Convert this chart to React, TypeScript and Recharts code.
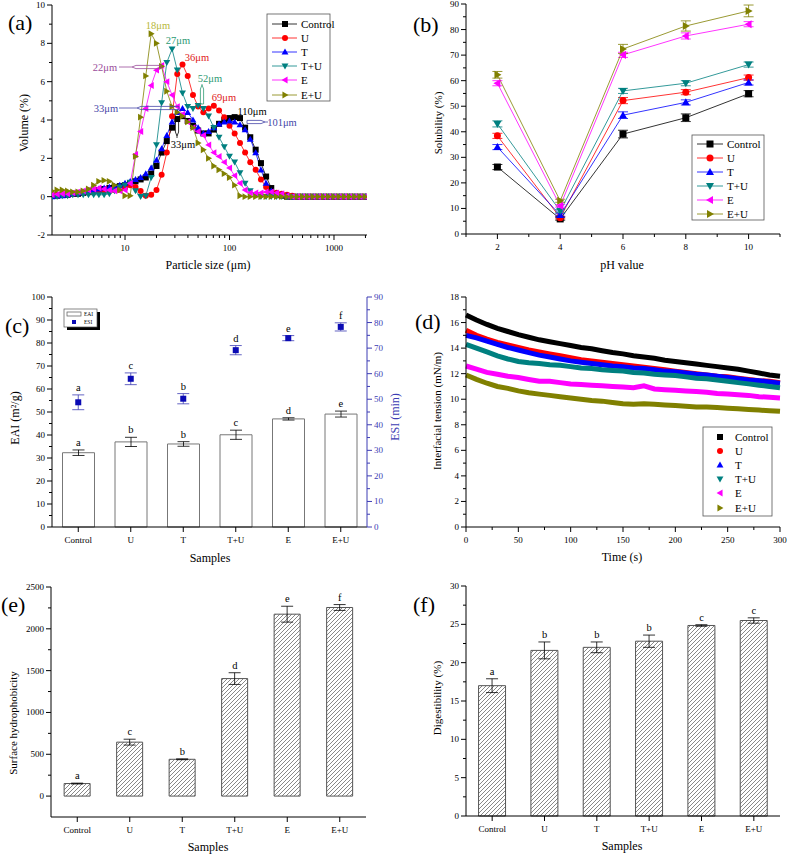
import { Bar, ComposedChart, ErrorBar, Line, LineChart, Scatter, XAxis, YAxis } from 'recharts'

const FONT = '"Liberation Serif", "DejaVu Serif", serif'
const FS = { fontFamily: FONT }

// (a) particle size distribution, volume % per size bin
const SIZES = [
  2.0, 2.24, 2.51, 2.82, 3.16, 3.55, 3.98, 4.47, 5.01, 5.62, 6.31, 7.08, 7.94, 8.91, 10.0,
  11.2, 12.6, 14.1, 15.8, 17.8, 20.0, 22.4, 25.1, 28.2, 31.6, 35.5, 39.8, 44.7, 50.1, 56.2,
  63.1, 70.8, 79.4, 89.1, 100, 112, 126, 141, 158, 178, 200, 224, 251, 282, 316, 355, 398,
  447, 501, 562, 631, 708, 794, 891, 1000, 1122, 1259, 1413, 1585, 1778, 1995,
]
const VOL_CONTROL = [
  0.05, 0.05, 0.1, 0.1, 0.15, 0.15, 0.2, 0.25, 0.3, 0.35, 0.4, 0.45, 0.5, 0.55, 0.6,
  0.7, 0.8, 0.9, 1.0, 1.2, 1.6, 2.3, 2.9, 3.6, 4.05, 4.2, 3.95, 3.7, 3.45, 3.3,
  3.3, 3.5, 3.8, 4.0, 4.1, 4.15, 4.1, 3.6, 3.1, 2.45, 1.75, 1.05, 0.45, 0.1, 0.05, 0, 0,
  0, 0, 0, 0, 0, 0, 0, 0, 0, 0, 0, 0, 0, 0,
]
const VOL_U = [
  0.1, 0.1, 0.15, 0.15, 0.15, 0.2, 0.2, 0.25, 0.25, 0.3, 0.3, 0.3, 0.35, 0.35, 0.45,
  0.6, 0.5, 0.3, 0.05, 0.1, 0.35, 1.15, 2.3, 4.2, 6.4, 6.9, 6.3, 5.3, 4.7, 4.4,
  4.6, 4.75, 4.5, 4.15, 3.7, 3.3, 2.8, 2.3, 1.8, 1.4, 0.9, 0.5, 0.25, 0.2, 0.15, 0.1, 0.05,
  0, 0, 0, 0, 0, 0, 0, 0, 0, 0, 0, 0, 0, 0,
]
const VOL_T = [
  0.0, 0.05, 0.05, 0.1, 0.15, 0.2, 0.25, 0.3, 0.35, 0.4, 0.45, 0.5, 0.55, 0.6, 0.7,
  0.8, 0.9, 1.0, 1.2, 1.5, 1.9, 2.5, 3.2, 3.9, 4.4, 4.6, 4.4, 4.0, 3.6, 3.3,
  3.4, 3.6, 3.8, 3.9, 3.95, 3.9, 3.75, 3.5, 3.0, 2.3, 1.4, 0.7, 0.3, 0.15, 0.1, 0.05, 0,
  0, 0, 0, 0, 0, 0, 0, 0, 0, 0, 0, 0, 0, 0,
]
const VOL_TU = [
  0.0, 0.0, 0.05, 0.05, 0.1, 0.1, 0.1, 0.1, 0.1, 0.1, 0.1, 0.15, 0.3, 0.5, 0.6,
  0.75, 0.3, 0.0, 0.05, 1.0, 2.7, 4.9, 7.0, 7.7, 6.6, 5.4, 4.7, 4.6, 4.75, 4.6,
  4.2, 3.6, 3.1, 2.6, 2.1, 1.8, 1.25, 0.7, 0.3, 0.1, 0, 0, 0, 0, 0, 0, 0,
  0, 0, 0, 0, 0, 0, 0, 0, 0, 0, 0, 0, 0, 0,
]
const VOL_E = [
  0.1, 0.12, 0.15, 0.15, 0.2, 0.25, 0.3, 0.35, 0.4, 0.45, 0.4, 0.35, 0.3, 0.3, 0.35,
  0.7, 2.2, 3.4, 4.6, 5.8, 6.6, 6.85, 6.0, 5.3, 4.7, 4.3, 3.9, 3.6, 3.4, 3.2,
  2.7, 2.3, 2.1, 1.8, 1.5, 1.1, 0.7, 0.35, 0.2, 0.2, 0.2, 0.25, 0.25, 0.2, 0.15, 0.05, 0,
  0, 0, 0, 0, 0, 0, 0, 0, 0, 0, 0, 0, 0, 0,
]
const VOL_EU = [
  0.3, 0.35, 0.35, 0.3, 0.25, 0.25, 0.3, 0.4, 0.6, 0.8, 0.85, 0.8, 0.6, 0.35, 0.05,
  0.05, 2.1, 4.15, 6.3, 8.5, 8.0, 6.8, 5.5, 4.7, 4.4, 4.2, 3.9, 3.6, 2.8, 2.45,
  2.0, 1.6, 1.4, 1.2, 1.0, 0.6, 0.05, 0, 0, 0, 0, 0, 0, 0, 0, 0, 0,
  0, 0, 0, 0, 0, 0, 0, 0, 0, 0, 0, 0, 0, 0,
]

// (b) solubility vs pH
const PH = [2, 4, 6, 8, 10]
const SOL_CONTROL = [26.2, 5.9, 39.1, 45.5, 54.9]
const SOL_U = [38.4, 6.4, 52.2, 55.5, 61.2]
const SOL_T = [34, 7.4, 46.5, 51.5, 59.3]
const SOL_TU = [43.1, 9, 56, 59, 66.3]
const SOL_E = [59, 11, 70.1, 77.5, 82.1]
const SOL_EU = [62.3, 13, 72.4, 81.4, 87.3]
const SOL_ERR_CONTROL = [1, 0.5, 1.5, 1.5, 1.2]
const SOL_ERR_U = [1, 0.5, 1.2, 1, 1]
const SOL_ERR_T = [1, 0.5, 1.3, 1, 1]
const SOL_ERR_TU = [1.2, 0.5, 1, 1, 1]
const SOL_ERR_E = [1, 0.5, 1, 1.2, 1]
const SOL_ERR_EU = [1.3, 0.6, 1.8, 2, 2.3]

// (c)-(f) per sample
const SAMPLES = ['Control', 'U', 'T', 'T+U', 'E', 'E+U']
const EAI = [32.3, 37, 36.1, 40.1, 47, 49.1]
const EAI_ERR = [1.2, 2.0, 1.0, 2.0, 0.5, 1.3]
const EAI_LETTERS = ['a', 'b', 'b', 'c', 'd', 'e']
const ESI = [48.8, 58, 50.2, 69.2, 73.9, 78.3]
const ESI_ERR = [2.9, 2.3, 2.0, 1.8, 1.0, 1.6]
const ESI_LETTERS = ['a', 'c', 'b', 'd', 'e', 'f']
const HYD = [150, 645, 440, 1405, 2175, 2255]
const HYD_ERR = [5, 35, 5, 70, 95, 35]
const HYD_LETTERS = ['a', 'c', 'b', 'd', 'e', 'f']
const DIG = [17, 21.6, 22, 22.8, 24.85, 25.5]
const DIG_ERR = [0.9, 1.1, 0.7, 0.8, 0.1, 0.35]
const DIG_LETTERS = ['a', 'b', 'b', 'b', 'c', 'c']

// (d) interfacial tension vs time
const TIME_S = [0, 10, 20, 30, 40, 50, 60, 70, 80, 90, 100, 110, 120, 130, 140, 150, 160, 170, 180, 190, 200, 210, 220, 230, 240, 250, 260, 270, 280, 290, 300]
const IT_CONTROL = [16.6, 16.2, 15.85, 15.55, 15.3, 15.05, 14.85, 14.65, 14.5, 14.35, 14.2, 14.05, 13.95, 13.8, 13.65, 13.55, 13.4, 13.3, 13.2, 13.05, 12.95, 12.85, 12.75, 12.65, 12.55, 12.45, 12.35, 12.2, 12.05, 11.9, 11.8]
const IT_U = [15.4, 15.0, 14.7, 14.45, 14.25, 14.05, 13.85, 13.7, 13.55, 13.4, 13.25, 13.1, 13.0, 12.9, 12.8, 12.7, 12.6, 12.5, 12.4, 12.3, 12.2, 12.1, 12.0, 11.9, 11.8, 11.75, 11.65, 11.55, 11.45, 11.4, 11.3]
const IT_T = [15.0, 14.8, 14.55, 14.3, 14.05, 13.85, 13.65, 13.45, 13.3, 13.15, 13.0, 12.9, 12.8, 12.7, 12.6, 12.55, 12.45, 12.4, 12.3, 12.2, 12.15, 12.05, 11.95, 11.9, 11.8, 11.7, 11.6, 11.5, 11.45, 11.35, 11.25]
const IT_TU = [14.3, 14.0, 13.7, 13.4, 13.15, 12.95, 12.85, 12.8, 12.7, 12.65, 12.55, 12.45, 12.4, 12.3, 12.25, 12.2, 12.1, 12.05, 11.95, 11.9, 11.85, 11.75, 11.65, 11.6, 11.5, 11.4, 11.3, 11.2, 11.1, 11.0, 10.9]
const IT_E = [12.6, 12.35, 12.1, 11.95, 11.8, 11.7, 11.55, 11.4, 11.4, 11.3, 11.2, 11.15, 11.1, 11.05, 11.0, 10.95, 10.9, 11.05, 10.8, 10.75, 10.7, 10.65, 10.6, 10.55, 10.45, 10.4, 10.35, 10.3, 10.2, 10.15, 10.1]
const IT_EU = [11.9, 11.55, 11.25, 11.0, 10.85, 10.65, 10.5, 10.4, 10.3, 10.2, 10.1, 10.0, 9.9, 9.85, 9.75, 9.65, 9.6, 9.65, 9.6, 9.55, 9.5, 9.45, 9.4, 9.4, 9.35, 9.3, 9.25, 9.2, 9.15, 9.1, 9.05]

const SERIES = [
  { key: 'control', name: 'Control', color: '#000000', shape: 'square' },
  { key: 'u', name: 'U', color: '#ff0000', shape: 'circle' },
  { key: 't', name: 'T', color: '#0000ff', shape: 'up' },
  { key: 'tu', name: 'T+U', color: '#008080', shape: 'down' },
  { key: 'e', name: 'E', color: '#ff00ff', shape: 'left' },
  { key: 'eu', name: 'E+U', color: '#808000', shape: 'right' },
]

const sizeData = SIZES.map((s, i) => ({
  size: s, control: VOL_CONTROL[i], u: VOL_U[i], t: VOL_T[i], tu: VOL_TU[i], e: VOL_E[i], eu: VOL_EU[i],
}))
const phData = PH.map((p, i) => ({
  ph: p,
  control: SOL_CONTROL[i], controlErr: SOL_ERR_CONTROL[i],
  u: SOL_U[i], uErr: SOL_ERR_U[i],
  t: SOL_T[i], tErr: SOL_ERR_T[i],
  tu: SOL_TU[i], tuErr: SOL_ERR_TU[i],
  e: SOL_E[i], eErr: SOL_ERR_E[i],
  eu: SOL_EU[i], euErr: SOL_ERR_EU[i],
}))
const tensionData = TIME_S.map((t, i) => ({
  time: t, control: IT_CONTROL[i], u: IT_U[i], t: IT_T[i], tu: IT_TU[i], e: IT_E[i], eu: IT_EU[i],
}))
const emulsionData = SAMPLES.map((s, i) => ({
  name: s,
  eai: EAI[i], eaiErr: EAI_ERR[i], eaiTop: EAI[i] + EAI_ERR[i], eaiLetter: EAI_LETTERS[i],
  esi: ESI[i], esiErr: ESI_ERR[i], esiTop: ESI[i] + ESI_ERR[i], esiLetter: ESI_LETTERS[i],
}))
const hydData = SAMPLES.map((s, i) => ({ name: s, v: HYD[i], err: HYD_ERR[i], top: HYD[i] + HYD_ERR[i], letter: HYD_LETTERS[i] }))
const digData = SAMPLES.map((s, i) => ({ name: s, v: DIG[i], err: DIG_ERR[i], top: DIG[i] + DIG_ERR[i], letter: DIG_LETTERS[i] }))

const ESI_BLUE = '#3c3cb4'

function Marker({ cx, cy, shape, color, r = 3 }: any) {
  if (cx == null || cy == null) return <g />
  const a = r * 1.15
  const b = r * 0.85
  if (shape === 'square') return <rect x={cx - r} y={cy - r} width={2 * r} height={2 * r} fill={color} />
  if (shape === 'circle') return <circle cx={cx} cy={cy} r={r} fill={color} />
  let pts = ''
  if (shape === 'up') pts = `${cx},${cy - a} ${cx + a},${cy + b} ${cx - a},${cy + b}`
  if (shape === 'down') pts = `${cx},${cy + a} ${cx + a},${cy - b} ${cx - a},${cy - b}`
  if (shape === 'left') pts = `${cx - a},${cy} ${cx + b},${cy - a} ${cx + b},${cy + a}`
  if (shape === 'right') pts = `${cx + a},${cy} ${cx - b},${cy - a} ${cx - b},${cy + a}`
  return <polygon points={pts} fill={color} />
}

function LeftTick({ x = 0, y = 0, payload, majors = [], color = '#000' }: any) {
  const v = payload?.value
  const major = majors.includes(v)
  return (
    <g>
      <line x1={x} x2={x - (major ? 5 : 3)} y1={y} y2={y} stroke={color} />
      {major && (
        <text x={x - 7} y={y + 3} textAnchor="end" fontSize={9} style={FS} fill={color}>{v}</text>
      )}
    </g>
  )
}

function RightTick({ x = 0, y = 0, payload, majors = [], color = '#000' }: any) {
  const v = payload?.value
  const major = majors.includes(v)
  return (
    <g>
      <line x1={x} x2={x + (major ? 5 : 3)} y1={y} y2={y} stroke={color} />
      {major && (
        <text x={x + 7} y={y + 3} textAnchor="start" fontSize={9} style={FS} fill={color}>{v}</text>
      )}
    </g>
  )
}

function BottomTick({ x = 0, y = 0, payload, majors }: any) {
  const v = payload?.value
  const major = majors ? majors.includes(v) : true
  return (
    <g>
      <line x1={x} x2={x} y1={y} y2={y + (major ? 5 : 3)} stroke="#000" />
      {major && (
        <text x={x} y={y + 16} textAnchor="middle" fontSize={9} style={FS} fill="#000">{v}</text>
      )}
    </g>
  )
}

const letterShape = (field: string) => (p: any) => (
  <text x={p.cx} y={p.cy - 4} textAnchor="middle" fontSize={10.5} style={FS} fill="#000">
    {p.payload[field]}
  </text>
)

const squareShape = (p: any) => <rect x={p.cx - 3} y={p.cy - 3} width={6} height={6} fill="#0a0ab4" />

const axisCommon = { tickLine: false, tickSize: 0, tickMargin: 0, interval: 0 as const, axisLine: { stroke: '#000' } }

function HollowArrow({ x1, y1, x2, y2, thin, color }: any) {
  const len = Math.hypot(x2 - x1, y2 - y1)
  const dx = (x2 - x1) / len
  const dy = (y2 - y1) / len
  const nx = -dy * 1.6
  const ny = dx * 1.6
  const tx = x1 + dx * thin
  const ty = y1 + dy * thin
  const hx = tx + dx * 4
  const hy = ty + dy * 4
  const pts = `${tx},${ty} ${hx + nx},${hy + ny} ${x2 + nx},${y2 + ny} ${x2 - nx},${y2 - ny} ${hx - nx},${hy - ny}`
  return (
    <g stroke={color} strokeWidth={0.8} fill="none">
      <line x1={x1} y1={y1} x2={tx} y2={ty} />
      <polygon points={pts} />
    </g>
  )
}

function LegendBox({ box, rows, lineX, markX, textX, r, withLine }: any) {
  return (
    <g>
      <rect x={box[0]} y={box[1]} width={box[2]} height={box[3]} fill="#fff" stroke="#555" strokeWidth={0.8} />
      {SERIES.map((s, i) => (
        <g key={s.key}>
          {withLine && <line x1={lineX[0]} x2={lineX[1]} y1={rows[i]} y2={rows[i]} stroke={s.color} strokeWidth={0.8} />}
          <Marker cx={markX} cy={rows[i]} shape={s.shape} color={s.color} r={r} />
          <text x={textX} y={rows[i] + 4} fontSize={11} style={FS} fill="#000">{s.name}</text>
        </g>
      ))}
    </g>
  )
}

function VText({ x, y, children, size = 11, color = '#000' }: any) {
  return (
    <text transform={`translate(${x},${y}) rotate(-90)`} textAnchor="middle" dy="0.35em" fontSize={size} style={FS} fill={color}>
      {children}
    </text>
  )
}

function HText({ x, y, children, size = 12, color = '#000', anchor = 'middle' }: any) {
  return (
    <text x={x} y={y} textAnchor={anchor} fontSize={size} style={FS} fill={color}>{children}</text>
  )
}

const hatch = (id: string) => (
  <defs>
    <pattern id={id} patternUnits="userSpaceOnUse" width={4} height={4}>
      <rect width={4} height={4} fill="#fff" />
      <path d="M-1,1 l2,-2 M0,4 l4,-4 M3,5 l2,-2" stroke="#555" strokeWidth={0.7} />
    </pattern>
  </defs>
)

export default function App() {
  return (
    <div style={{ position: 'absolute', left: 0, top: 0, width: 787, height: 854, background: '#fff', fontFamily: FONT }}>
      {/* (a) */}
      <div style={{ position: 'absolute', left: 0, top: 0 }}>
        <LineChart width={390} height={260} data={sizeData} margin={{ top: 5, right: 23, left: 12, bottom: 0 }}>
          <XAxis
            dataKey="size" type="number" scale="log" domain={[2, 2070]} allowDataOverflow height={25}
            ticks={[3, 4, 5, 6, 7, 8, 9, 10, 20, 30, 40, 50, 60, 70, 80, 90, 100, 200, 300, 400, 500, 600, 700, 800, 900, 1000, 2000]}
            tick={<BottomTick majors={[10, 100, 1000]} />} {...axisCommon}
          />
          <YAxis
            type="number" domain={[-2, 10]} width={40}
            ticks={[-2, -1, 0, 1, 2, 3, 4, 5, 6, 7, 8, 9, 10]}
            tick={<LeftTick majors={[-2, 0, 2, 4, 6, 8, 10]} />} {...axisCommon}
          />
          {SERIES.map((s) => (
            <Line
              key={s.key} dataKey={s.key} stroke={s.color} strokeWidth={0.8} isAnimationActive={false} activeDot={false}
              dot={(p: any) => <Marker key={`${s.key}${p.index}`} cx={p.cx} cy={p.cy} shape={s.shape} color={s.color} r={3} />}
            />
          ))}
        </LineChart>
      </div>

      {/* (b) */}
      <div style={{ position: 'absolute', left: 390, top: 0 }}>
        <LineChart width={397} height={260} data={phData} margin={{ top: 4, right: 7, left: 36, bottom: 0 }}>
          <XAxis
            dataKey="ph" type="number" domain={[1, 11]} height={26}
            ticks={[1, 2, 3, 4, 5, 6, 7, 8, 9, 10, 11]}
            tick={<BottomTick majors={[2, 4, 6, 8, 10]} />} {...axisCommon}
          />
          <YAxis
            type="number" domain={[0, 90]} width={40}
            ticks={[0, 5, 10, 15, 20, 25, 30, 35, 40, 45, 50, 55, 60, 65, 70, 75, 80, 85, 90]}
            tick={<LeftTick majors={[0, 10, 20, 30, 40, 50, 60, 70, 80, 90]} />} {...axisCommon}
          />
          {SERIES.map((s) => (
            <Line
              key={s.key} dataKey={s.key} stroke={s.color} strokeWidth={0.8} isAnimationActive={false} activeDot={false}
              dot={(p: any) => <Marker key={`${s.key}${p.index}`} cx={p.cx} cy={p.cy} shape={s.shape} color={s.color} r={3.5} />}
            >
              <ErrorBar dataKey={`${s.key}Err`} width={5} stroke={s.color} strokeWidth={0.8} direction="y" />
            </Line>
          ))}
        </LineChart>
      </div>

      {/* (c) */}
      <div style={{ position: 'absolute', left: 0, top: 280 }}>
        <ComposedChart width={400} height={272} data={emulsionData} margin={{ top: 17, right: 3, left: 12, bottom: 0 }} barCategoryGap="20%">
          <XAxis dataKey="name" height={25} tick={<BottomTick />} {...axisCommon} />
          <YAxis
            yAxisId="left" type="number" domain={[0, 100]} width={40}
            ticks={[0, 5, 10, 15, 20, 25, 30, 35, 40, 45, 50, 55, 60, 65, 70, 75, 80, 85, 90, 95, 100]}
            tick={<LeftTick majors={[0, 10, 20, 30, 40, 50, 60, 70, 80, 90, 100]} />} {...axisCommon}
          />
          <YAxis
            yAxisId="right" orientation="right" type="number" domain={[0, 90]} width={30}
            ticks={[0, 5, 10, 15, 20, 25, 30, 35, 40, 45, 50, 55, 60, 65, 70, 75, 80, 85, 90]}
            tick={<RightTick majors={[0, 10, 20, 30, 40, 50, 60, 70, 80, 90]} color={ESI_BLUE} />}
            {...axisCommon} axisLine={{ stroke: ESI_BLUE }}
          />
          <Bar yAxisId="left" dataKey="eai" fill="#fff" stroke="#777" strokeWidth={1} isAnimationActive={false}>
            <ErrorBar dataKey="eaiErr" width={6} stroke="#000" strokeWidth={0.8} />
          </Bar>
          <Scatter yAxisId="left" dataKey="eaiTop" shape={letterShape('eaiLetter')} isAnimationActive={false} />
          <Scatter yAxisId="right" dataKey="esi" shape={squareShape} isAnimationActive={false}>
            <ErrorBar dataKey="esiErr" width={6} stroke={ESI_BLUE} strokeWidth={0.8} direction="y" />
          </Scatter>
          <Scatter yAxisId="right" dataKey="esiTop" shape={letterShape('esiLetter')} isAnimationActive={false} />
        </ComposedChart>
      </div>

      {/* (d) */}
      <div style={{ position: 'absolute', left: 390, top: 280 }}>
        <LineChart width={397} height={272} data={tensionData} margin={{ top: 17, right: 7, left: 36, bottom: 0 }}>
          <XAxis
            dataKey="time" type="number" domain={[0, 300]} height={25}
            ticks={[0, 25, 50, 75, 100, 125, 150, 175, 200, 225, 250, 275, 300]}
            tick={<BottomTick majors={[0, 50, 100, 150, 200, 250, 300]} />} {...axisCommon}
          />
          <YAxis
            type="number" domain={[0, 18]} width={40}
            ticks={[0, 1, 2, 3, 4, 5, 6, 7, 8, 9, 10, 11, 12, 13, 14, 15, 16, 17, 18]}
            tick={<LeftTick majors={[0, 2, 4, 6, 8, 10, 12, 14, 16, 18]} />} {...axisCommon}
          />
          {SERIES.map((s) => (
            <Line key={s.key} dataKey={s.key} stroke={s.color} strokeWidth={5} dot={false} activeDot={false} isAnimationActive={false} />
          ))}
        </LineChart>
      </div>

      {/* (e) */}
      <div style={{ position: 'absolute', left: 0, top: 570 }}>
        <ComposedChart width={390} height={272} data={hydData} margin={{ top: 17, right: 24, left: 11, bottom: 0 }} barCategoryGap="25%">
          {hatch('hatchE')}
          <XAxis dataKey="name" height={25} tick={<BottomTick />} {...axisCommon} />
          <YAxis
            type="number" domain={[-250, 2500]} width={40} allowDataOverflow
            ticks={[0, 250, 500, 750, 1000, 1250, 1500, 1750, 2000, 2250, 2500]}
            tick={<LeftTick majors={[0, 500, 1000, 1500, 2000, 2500]} />} {...axisCommon}
          />
          <Bar dataKey="v" fill="url(#hatchE)" stroke="#555" strokeWidth={1} isAnimationActive={false}>
            <ErrorBar dataKey="err" width={6} stroke="#000" strokeWidth={0.8} />
          </Bar>
          <Scatter dataKey="top" shape={letterShape('letter')} isAnimationActive={false} />
        </ComposedChart>
      </div>

      {/* (f) */}
      <div style={{ position: 'absolute', left: 390, top: 570 }}>
        <ComposedChart width={397} height={271} data={digData} margin={{ top: 16, right: 7, left: 36, bottom: 0 }} barCategoryGap="24%">
          {hatch('hatchF')}
          <XAxis dataKey="name" height={25} tick={<BottomTick />} {...axisCommon} />
          <YAxis
            type="number" domain={[0, 30]} width={40}
            ticks={[0, 2.5, 5, 7.5, 10, 12.5, 15, 17.5, 20, 22.5, 25, 27.5, 30]}
            tick={<LeftTick majors={[0, 5, 10, 15, 20, 25, 30]} />} {...axisCommon}
          />
          <Bar dataKey="v" fill="url(#hatchF)" stroke="#555" strokeWidth={1} isAnimationActive={false}>
            <ErrorBar dataKey="err" width={6} stroke="#000" strokeWidth={0.8} />
          </Bar>
          <Scatter dataKey="top" shape={letterShape('letter')} isAnimationActive={false} />
        </ComposedChart>
      </div>

      {/* titles, legends, annotations */}
      <svg width={787} height={854} style={{ position: 'absolute', left: 0, top: 0, pointerEvents: 'none' }}>
        <HText x={8} y={30} size={22} anchor="start">(a)</HText>
        <HText x={413} y={32} size={22} anchor="start">(b)</HText>
        <HText x={5} y={333} size={22} anchor="start">(c)</HText>
        <HText x={415} y={329} size={22} anchor="start">(d)</HText>
        <HText x={1} y={612} size={22} anchor="start">(e)</HText>
        <HText x={413} y={612} size={22} anchor="start">(f)</HText>

        <VText x={24} y={123} size={12}>Volume (%)</VText>
        <HText x={208} y={269}>Particle size (μm)</HText>
        <VText x={438} y={123}>Solubility (%)</VText>
        <HText x={622} y={269}>pH value</HText>
        <VText x={15} y={418} size={12}>EAI (m²/g)</VText>
        <VText x={395} y={417} size={12} color={ESI_BLUE}>ESI (min)</VText>
        <HText x={210} y={562}>Samples</HText>
        <VText x={437} y={411}>Interfacial tension (mN/m)</VText>
        <HText x={622} y={561}>Time (s)</HText>
        <VText x={13} y={723}>Surface hydrophobicity</VText>
        <HText x={208} y={851}>Samples</HText>
        <VText x={437} y={698}>Digestibility (%)</VText>
        <HText x={622} y={850}>Samples</HText>

        <LegendBox box={[267, 14, 63, 87]} rows={[24, 38, 52, 66, 80, 95]} lineX={[272, 297]} markX={285} textX={301} r={3} withLine />
        <LegendBox box={[692, 135, 72, 85]} rows={[144, 158, 172, 186, 200, 214]} lineX={[697, 723]} markX={710} textX={727} r={3.5} withLine />
        <LegendBox box={[703, 427, 69, 89]} rows={[437, 451, 465, 479, 493, 508]} lineX={[0, 0]} markX={720} textX={735} r={3} withLine={false} />

        <g>
          <rect x={67} y={312} width={33} height={18} fill="#000" />
          <rect x={64} y={309} width={33} height={18} fill="#fff" stroke="#555" strokeWidth={0.7} />
          <rect x={67} y={312} width={14} height={4} fill="#fff" stroke="#555" strokeWidth={0.7} />
          <text x={84} y={316} fontSize={5.5} style={FS}>EAI</text>
          <rect x={72} y={320} width={4} height={4} fill="#0a0ab4" />
          <text x={84} y={324} fontSize={5.5} style={FS}>ESI</text>
        </g>

        <g style={FS} fontSize={10.5}>
          <text x={158} y={29} textAnchor="middle" fill="#b8b83a">18μm</text>
          <text x={178} y={44} textAnchor="middle" fill="#2e9a72">27μm</text>
          <text x={197} y={61} textAnchor="middle" fill="#e02020">36μm</text>
          <text x={105} y={71} textAnchor="middle" fill="#9a4c9a">22μm</text>
          <text x={210} y={82} textAnchor="middle" fill="#2e9a72">52μm</text>
          <text x={224} y={101} textAnchor="middle" fill="#e02020">69μm</text>
          <text x={106} y={112} textAnchor="middle" fill="#4646a8">33μm</text>
          <text x={252} y={115} textAnchor="middle" fill="#000">110μm</text>
          <text x={282} y={126} textAnchor="middle" fill="#4646a8">101μm</text>
          <text x={183} y={148} textAnchor="middle" fill="#000">33μm</text>
        </g>
        <HollowArrow x1={119} y1={67} x2={161} y2={67} thin={13} color="#9a4c9a" />
        <HollowArrow x1={119} y1={108} x2={179} y2={108} thin={18} color="#4646a8" />
        <HollowArrow x1={202} y1={84} x2={202} y2={104} thin={1} color="#2e9a72" />
        <HollowArrow x1={177} y1={138} x2={177} y2={121} thin={2} color="#000" />
        <HollowArrow x1={268} y1={122} x2={247} y2={122} thin={3} color="#4646a8" />
      </svg>
    </div>
  )
}
